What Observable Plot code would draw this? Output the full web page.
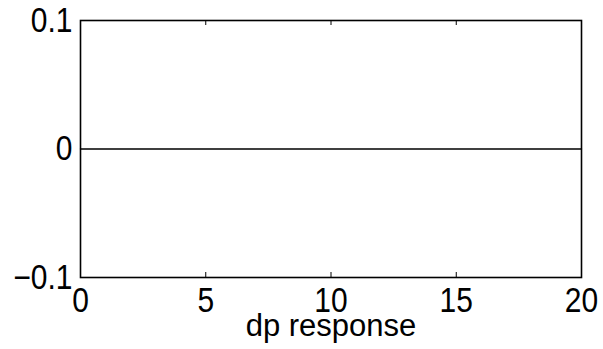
<!DOCTYPE html>
<html>
<head>
<meta charset="utf-8">
<script src="https://cdn.jsdelivr.net/npm/d3@7"></script>
<script src="https://cdn.jsdelivr.net/npm/@observablehq/plot@0.6"></script>
<style>
  html, body { margin: 0; padding: 0; background: #fff; }
  #chart svg { display: block; overflow: visible; }
</style>
</head>
<body>
<div id="chart"></div>
<script>
// Impulse response of dp over 20 periods
const periods = [0, 1, 2, 3, 4, 5, 6, 7, 8, 9, 10, 11, 12, 13, 14, 15, 16, 17, 18, 19, 20];
const dpResponse = [0, 0, 0, 0, 0, 0, 0, 0, 0, 0, 0, 0, 0, 0, 0, 0, 0, 0, 0, 0, 0];
const xTicks = [0, 5, 10, 15, 20];
const yTicks = [-0.1, 0, 0.1];
const titleText = "dp response";
const xLabelText = "dp response";

const W = 603, H = 349;
const mL = 80, mR = 22, mT = 20, mB = 72;
const innerH = H - mT - mB;
const tickLen = 5;
const font = "Liberation Sans, Arial, Helvetica, sans-serif";
const fs = 30;
const stretch = 1.15; // tall tick-label glyphs

const data = periods.map((p, i) => ({p, v: dpResponse[i]}));
const fmt = d => d === 0 ? "0" : (d < 0 ? "\u2212" : "") + Math.abs(d).toFixed(1);

const chart = Plot.plot({
  width: W,
  height: H,
  marginLeft: mL,
  marginRight: mR,
  marginTop: mT,
  marginBottom: mB,
  style: {fontFamily: font, fontSize: fs + "px", color: "#000", background: "#fff"},
  x: {domain: [0, 20]},
  y: {domain: [-0.1, 0.1]},
  marks: [
    Plot.axisX({ticks: xTicks, tickSize: 0, tickPadding: 9, fontSize: fs, label: null, tickFormat: d => String(d), className: "xt"}),
    Plot.axisY({ticks: yTicks, tickSize: 0, tickPadding: 8, fontSize: fs, label: null, tickFormat: fmt, className: "yt"}),
    // inward ticks along bottom and top edges
    Plot.tickX(xTicks, {x: d => d, stroke: "#000", strokeWidth: 1, insetTop: innerH - tickLen}),
    Plot.tickX(xTicks, {x: d => d, stroke: "#000", strokeWidth: 1, insetBottom: innerH - tickLen}),
    Plot.line(data, {x: "p", y: "v", stroke: "#000", strokeWidth: 1.3}),
    Plot.frame({stroke: "#000", strokeWidth: 1.6}),
    Plot.text([xLabelText], {frameAnchor: "bottom", dy: 58, lineAnchor: "bottom", fontSize: 31, fill: "#000", text: d => d}),
    Plot.text([titleText], {frameAnchor: "top", dy: -28, lineAnchor: "bottom", fontSize: 31, fill: "#000", text: d => d})
  ]
});
document.getElementById("chart").appendChild(chart);

// stretch tick labels vertically: x labels keep their top, y labels their centre
function stretchLabels(sel, keepTop) {
  chart.querySelectorAll(sel + " text").forEach(t => {
    const b = t.getBBox();
    const oy = keepTop ? b.y : b.y + b.height / 2;
    const base = t.getAttribute("transform") || "";
    t.setAttribute("transform", `${base} translate(0,${oy}) scale(1,${stretch}) translate(0,${-oy})`);
  });
}
stretchLabels(".xt", true);
stretchLabels(".yt", false);
</script>
</body>
</html>
